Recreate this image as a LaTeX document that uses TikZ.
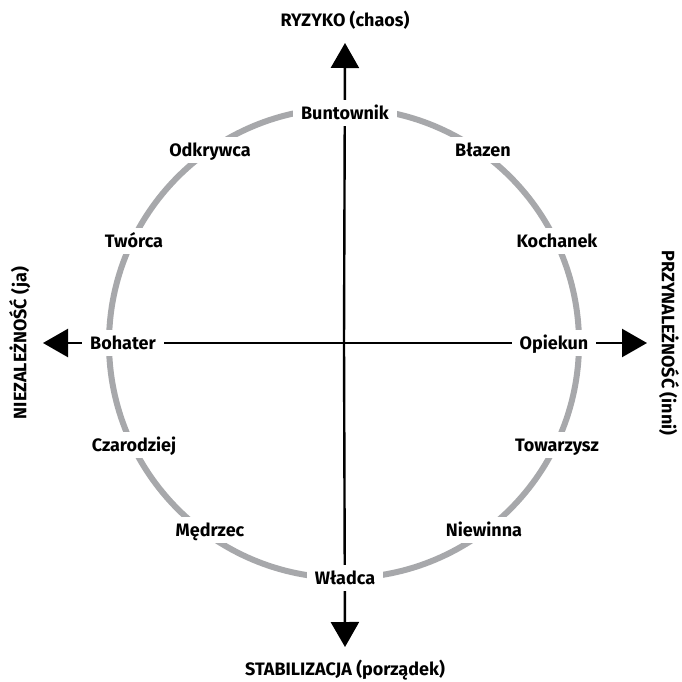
\documentclass[tikz,border=0pt]{standalone}
\usepackage{fontspec}
\setmainfont{Fira Sans}
\usetikzlibrary{arrows.meta}
\definecolor{ringgray}{HTML}{A7A8AB}
\begin{document}
\begin{tikzpicture}[x=1pt,y=-1pt,
  lbl/.style={font=\fontsize{18}{21}\selectfont\bfseries, fill=white, inner xsep=8pt, inner ysep=7pt, text height=12.5pt, text depth=0pt},
  axislbl/.style={font=\fontsize{18}{21}\selectfont\bfseries, inner sep=0pt, text height=12.5pt, text depth=0pt},
  axis/.style={line width=2.4pt, -{Triangle[length=25pt,width=28pt]}}]
\useasboundingbox (0,0) rectangle (682,681);
\coordinate (C) at (344,343);
\coordinate (T) at (345,43);
\coordinate (B) at (345,647);
\coordinate (L) at (43,343);
\coordinate (R) at (647,343);
\draw[ringgray, line width=6pt] (C) circle[radius=235];
\draw[axis] (C) -- (T);
\draw[axis] (C) -- (B);
\draw[axis] (C) -- (L);
\draw[axis] (C) -- (R);
\node[lbl] (bun) at (345,113) {Buntownik};
\node[lbl] (bla) at (483,150) {Błazen};
\node[lbl] (koc) at (557,241) {Kochanek};
\node[lbl] (opi) at (554,343) {Opiekun};
\node[lbl] (tow) at (557,445) {Towarzysz};
\node[lbl] (nie) at (484,530) {Niewinna};
\node[lbl] (wla) at (345,578) {Władca};
\node[lbl] (med) at (210,530) {Mędrzec};
\node[lbl] (cza) at (134,445) {Czarodziej};
\node[lbl] (boh) at (123,343) {Bohater};
\node[lbl] (two) at (134,241) {Twórca};
\node[lbl] (odk) at (210,150) {Odkrywca};
\node[axislbl] (ryz) at (345,20) {RYZYKO (chaos)};
\node[axislbl] (sta) at (345,669) {STABILIZACJA (porządek)};
\node[axislbl, rotate=90] (nzl) at (20,343) {NIEZALEŻNOŚĆ (ja)};
\node[axislbl, rotate=-90] (prz) at (668,343) {PRZYNALEŻNOŚĆ (inni)};
\end{tikzpicture}
\end{document}
